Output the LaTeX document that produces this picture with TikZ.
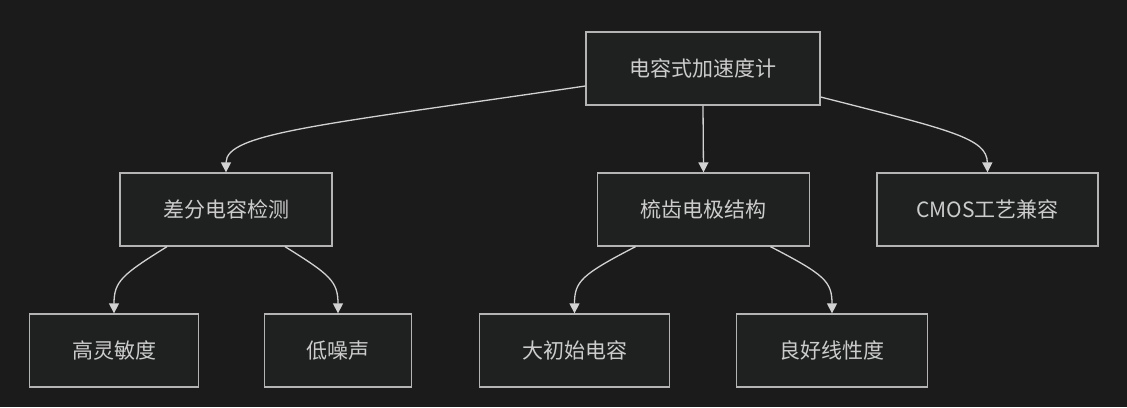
\documentclass[tikz,border=0pt]{standalone}
\usepackage{fontspec}
\newfontfamily\cjk{Noto Sans CJK SC}
\usepackage{tikz}
\usetikzlibrary{arrows.meta}

\definecolor{bgdark}{HTML}{1B1B1B}
\definecolor{boxfill}{HTML}{1F2020}
\definecolor{boxline}{HTML}{B4B4B4}
\definecolor{edgeline}{HTML}{D2D2D2}
\definecolor{txt}{HTML}{CCCCCC}

\begin{document}
\begin{tikzpicture}[x=1pt, y=-1pt,
    font=\cjk\fontsize{21}{25}\selectfont,
    box/.style={draw=boxline, fill=boxfill, line width=1.3pt, text=txt,
        minimum height=73pt, inner xsep=42pt},
    edge/.style={draw=edgeline, line width=1.3pt,
        -{Triangle[width=10pt, length=10pt]}}]
    % Background
    \fill[bgdark] (0,0) rectangle (1127,407);
    \useasboundingbox (0,0) rectangle (1127,407);

    % --- Top level ---
    \node[box, minimum width=234pt] (acc) at (703,68.5) {电容式加速度计};

    % --- Second level ---
    \node[box, minimum width=212pt] (diff) at (226,209.5) {差分电容检测};
    \node[box, minimum width=212pt] (comb) at (703.5,209.5) {梳齿电极结构};
    \node[box, minimum width=221pt, inner xsep=38pt] (cmos) at (987.5,209.5) {CMOS工艺兼容};

    % --- Third level ---
    \node[box, minimum width=169pt] (sens) at (114,350.5) {高灵敏度};
    \node[box, minimum width=146pt] (noise) at (338,350.5) {低噪声};
    \node[box, minimum width=190pt] (cap) at (574.5,350.5) {大初始电容};
    \node[box, minimum width=191pt] (lin) at (832,350.5) {良好线性度};

    % Edges from the top node
    \draw[edge] ([yshift=-17.5pt]acc.west) .. controls (320,125) and (226,133) .. (diff.north);
    \draw[edge] (acc.south) -- (comb.north);
    \draw[edge] ([yshift=-28.5pt]acc.east) .. controls (950,130) and (987,138) .. (cmos.north);

    % Edges to the leaves
    \draw[edge] ([xshift=-59pt]diff.south) .. controls +(-45,28) and +(0,-32) .. (sens.north);
    \draw[edge] ([xshift=59pt]diff.south) .. controls +(45,28) and +(0,-32) .. (noise.north);
    \draw[edge] ([xshift=-68pt]comb.south) .. controls +(-54,28) and +(0,-32) .. (cap.north);
    \draw[edge] ([xshift=67pt]comb.south) .. controls +(54,28) and +(0,-32) .. (lin.north);
\end{tikzpicture}
\end{document}
